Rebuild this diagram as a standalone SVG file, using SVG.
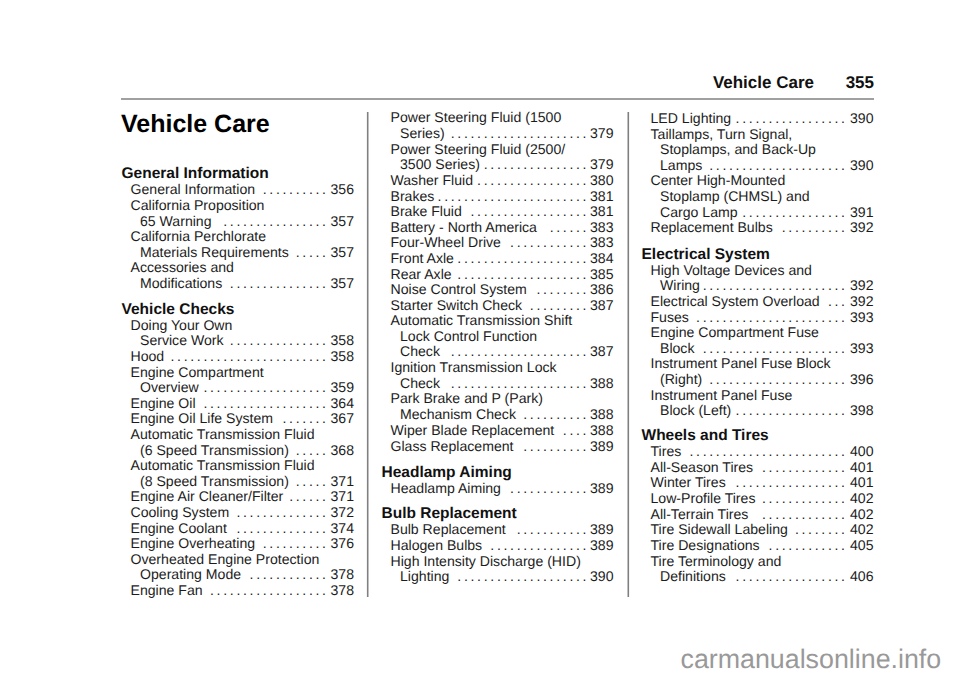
<svg xmlns="http://www.w3.org/2000/svg" width="960" height="678" viewBox="0 0 960 678">
<style>
text{font-family:"Liberation Sans",Arial,sans-serif;fill:#1c1c1c;text-rendering:geometricPrecision}
.i{font-size:14.1px}
.d{font-size:14.1px;word-spacing:-1.24px}
.h{font-size:15.5px;font-weight:bold;fill:#111}
.t{font-size:25px;font-weight:bold;fill:#000}
.p{font-size:17px;font-weight:bold;fill:#111}
.r{stroke:#808080;stroke-width:1.6;fill:none}
.w{font-size:26.8px;fill:#999}
</style>
<rect width="960" height="678" fill="#fff"/>
<g id="header">
<text class="p" x="814" y="87.6" text-anchor="end">Vehicle Care</text>
<text class="p" x="874" y="87.6" text-anchor="end">355</text>
<path class="r" d="M121 99H874"/>
<path class="r" d="M367.7 112V597M628.3 112V597"/>
<text class="t" x="121" y="131.5">Vehicle Care</text>
</g>
<g id="column1">
<text class="h" x="121.5" y="178.3">General Information</text>
<text class="i" x="130.5" y="194.3">General Information<tspan class="d" x="326" text-anchor="end">. . . . . . . . . .</tspan><tspan x="354" text-anchor="end">356</tspan></text>
<text class="i" x="130.5" y="210">California Proposition</text>
<text class="i" x="140" y="225.6">65 Warning<tspan class="d" x="326" text-anchor="end">. . . . . . . . . . . . . . . .</tspan><tspan x="354" text-anchor="end">357</tspan></text>
<text class="i" x="130.5" y="241.2">California Perchlorate</text>
<text class="i" x="140" y="256.8">Materials Requirements<tspan class="d" x="326" text-anchor="end">. . . . .</tspan><tspan x="354" text-anchor="end">357</tspan></text>
<text class="i" x="130.5" y="272.4">Accessories and</text>
<text class="i" x="140" y="288">Modifications<tspan class="d" x="326" text-anchor="end">. . . . . . . . . . . . . . .</tspan><tspan x="354" text-anchor="end">357</tspan></text>
<text class="h" x="121.5" y="314">Vehicle Checks</text>
<text class="i" x="130.5" y="330">Doing Your Own</text>
<text class="i" x="140" y="345.4">Service Work<tspan class="d" x="326" text-anchor="end">. . . . . . . . . . . . . . .</tspan><tspan x="354" text-anchor="end">358</tspan></text>
<text class="i" x="130.5" y="361">Hood<tspan class="d" x="326" text-anchor="end">. . . . . . . . . . . . . . . . . . . . . . . .</tspan><tspan x="354" text-anchor="end">358</tspan></text>
<text class="i" x="130.5" y="376.7">Engine Compartment</text>
<text class="i" x="140" y="392.2">Overview<tspan class="d" x="326" text-anchor="end">. . . . . . . . . . . . . . . . . . .</tspan><tspan x="354" text-anchor="end">359</tspan></text>
<text class="i" x="130.5" y="407.8">Engine Oil<tspan class="d" x="326" text-anchor="end">. . . . . . . . . . . . . . . . . . .</tspan><tspan x="354" text-anchor="end">364</tspan></text>
<text class="i" x="130.5" y="423.4">Engine Oil Life System<tspan class="d" x="326" text-anchor="end">. . . . . . .</tspan><tspan x="354" text-anchor="end">367</tspan></text>
<text class="i" x="130.5" y="439">Automatic Transmission Fluid</text>
<text class="i" x="140" y="454.6">(6 Speed Transmission)<tspan class="d" x="326" text-anchor="end">. . . . .</tspan><tspan x="354" text-anchor="end">368</tspan></text>
<text class="i" x="130.5" y="470.2">Automatic Transmission Fluid</text>
<text class="i" x="140" y="485.8">(8 Speed Transmission)<tspan class="d" x="326" text-anchor="end">. . . . .</tspan><tspan x="354" text-anchor="end">371</tspan></text>
<text class="i" x="130.5" y="501.4">Engine Air Cleaner/Filter<tspan class="d" x="326" text-anchor="end">. . . . . .</tspan><tspan x="354" text-anchor="end">371</tspan></text>
<text class="i" x="130.5" y="517">Cooling System<tspan class="d" x="326" text-anchor="end">. . . . . . . . . . . . . .</tspan><tspan x="354" text-anchor="end">372</tspan></text>
<text class="i" x="130.5" y="532.6">Engine Coolant<tspan class="d" x="326" text-anchor="end">. . . . . . . . . . . . . .</tspan><tspan x="354" text-anchor="end">374</tspan></text>
<text class="i" x="130.5" y="548.2">Engine Overheating<tspan class="d" x="326" text-anchor="end">. . . . . . . . . .</tspan><tspan x="354" text-anchor="end">376</tspan></text>
<text class="i" x="130.5" y="563.6">Overheated Engine Protection</text>
<text class="i" x="140" y="579.2">Operating Mode<tspan class="d" x="326" text-anchor="end">. . . . . . . . . . . .</tspan><tspan x="354" text-anchor="end">378</tspan></text>
<text class="i" x="130.5" y="594.6">Engine Fan<tspan class="d" x="326" text-anchor="end">. . . . . . . . . . . . . . . . . .</tspan><tspan x="354" text-anchor="end">378</tspan></text>
</g>
<g id="column2">
<text class="i" x="390.5" y="122.4">Power Steering Fluid (1500</text>
<text class="i" x="400" y="138">Series)<tspan class="d" x="586.5" text-anchor="end">. . . . . . . . . . . . . . . . . . . . .</tspan><tspan x="613.5" text-anchor="end">379</tspan></text>
<text class="i" x="390.5" y="153.7">Power Steering Fluid (2500/</text>
<text class="i" x="400" y="169.3">3500 Series)<tspan class="d" x="586.5" text-anchor="end">. . . . . . . . . . . . . . . .</tspan><tspan x="613.5" text-anchor="end">379</tspan></text>
<text class="i" x="390.5" y="185">Washer Fluid<tspan class="d" x="586.5" text-anchor="end">. . . . . . . . . . . . . . . . .</tspan><tspan x="613.5" text-anchor="end">380</tspan></text>
<text class="i" x="390.5" y="200.6">Brakes<tspan class="d" x="586.5" text-anchor="end">. . . . . . . . . . . . . . . . . . . . . . .</tspan><tspan x="613.5" text-anchor="end">381</tspan></text>
<text class="i" x="390.5" y="216.2">Brake Fluid<tspan class="d" x="586.5" text-anchor="end">. . . . . . . . . . . . . . . . . .</tspan><tspan x="613.5" text-anchor="end">381</tspan></text>
<text class="i" x="390.5" y="231.8">Battery - North America<tspan class="d" x="586.5" text-anchor="end">. . . . . .</tspan><tspan x="613.5" text-anchor="end">383</tspan></text>
<text class="i" x="390.5" y="247.4">Four-Wheel Drive<tspan class="d" x="586.5" text-anchor="end">. . . . . . . . . . . .</tspan><tspan x="613.5" text-anchor="end">383</tspan></text>
<text class="i" x="390.5" y="263">Front Axle<tspan class="d" x="586.5" text-anchor="end">. . . . . . . . . . . . . . . . . . . .</tspan><tspan x="613.5" text-anchor="end">384</tspan></text>
<text class="i" x="390.5" y="278.6">Rear Axle<tspan class="d" x="586.5" text-anchor="end">. . . . . . . . . . . . . . . . . . . .</tspan><tspan x="613.5" text-anchor="end">385</tspan></text>
<text class="i" x="390.5" y="294.2">Noise Control System<tspan class="d" x="586.5" text-anchor="end">. . . . . . . .</tspan><tspan x="613.5" text-anchor="end">386</tspan></text>
<text class="i" x="390.5" y="309.6">Starter Switch Check<tspan class="d" x="586.5" text-anchor="end">. . . . . . . . .</tspan><tspan x="613.5" text-anchor="end">387</tspan></text>
<text class="i" x="390.5" y="325.2">Automatic Transmission Shift</text>
<text class="i" x="400" y="340.8">Lock Control Function</text>
<text class="i" x="400" y="356.4">Check<tspan class="d" x="586.5" text-anchor="end">. . . . . . . . . . . . . . . . . . . . .</tspan><tspan x="613.5" text-anchor="end">387</tspan></text>
<text class="i" x="390.5" y="372">Ignition Transmission Lock</text>
<text class="i" x="400" y="387.7">Check<tspan class="d" x="586.5" text-anchor="end">. . . . . . . . . . . . . . . . . . . . .</tspan><tspan x="613.5" text-anchor="end">388</tspan></text>
<text class="i" x="390.5" y="403.3">Park Brake and P (Park)</text>
<text class="i" x="400" y="419">Mechanism Check<tspan class="d" x="586.5" text-anchor="end">. . . . . . . . . .</tspan><tspan x="613.5" text-anchor="end">388</tspan></text>
<text class="i" x="390.5" y="435">Wiper Blade Replacement<tspan class="d" x="586.5" text-anchor="end">. . . .</tspan><tspan x="613.5" text-anchor="end">388</tspan></text>
<text class="i" x="390.5" y="450.9">Glass Replacement<tspan class="d" x="586.5" text-anchor="end">. . . . . . . . . .</tspan><tspan x="613.5" text-anchor="end">389</tspan></text>
<text class="h" x="381.5" y="476.7">Headlamp Aiming</text>
<text class="i" x="390.5" y="492.7">Headlamp Aiming<tspan class="d" x="586.5" text-anchor="end">. . . . . . . . . . . .</tspan><tspan x="613.5" text-anchor="end">389</tspan></text>
<text class="h" x="381.5" y="518.3">Bulb Replacement</text>
<text class="i" x="390.5" y="534.3">Bulb Replacement<tspan class="d" x="586.5" text-anchor="end">. . . . . . . . . . .</tspan><tspan x="613.5" text-anchor="end">389</tspan></text>
<text class="i" x="390.5" y="549.9">Halogen Bulbs<tspan class="d" x="586.5" text-anchor="end">. . . . . . . . . . . . . . .</tspan><tspan x="613.5" text-anchor="end">389</tspan></text>
<text class="i" x="390.5" y="565.5">High Intensity Discharge (HID)</text>
<text class="i" x="400" y="581.1">Lighting<tspan class="d" x="586.5" text-anchor="end">. . . . . . . . . . . . . . . . . . . .</tspan><tspan x="613.5" text-anchor="end">390</tspan></text>
</g>
<g id="column3">
<text class="i" x="650.5" y="122.9">LED Lighting<tspan class="d" x="845" text-anchor="end">. . . . . . . . . . . . . . . . .</tspan><tspan x="873.5" text-anchor="end">390</tspan></text>
<text class="i" x="650.5" y="138.5">Taillamps, Turn Signal,</text>
<text class="i" x="660" y="154.1">Stoplamps, and Back-Up</text>
<text class="i" x="660" y="169.7">Lamps<tspan class="d" x="845" text-anchor="end">. . . . . . . . . . . . . . . . . . . . .</tspan><tspan x="873.5" text-anchor="end">390</tspan></text>
<text class="i" x="650.5" y="185.3">Center High-Mounted</text>
<text class="i" x="660" y="200.9">Stoplamp (CHMSL) and</text>
<text class="i" x="660" y="216.5">Cargo Lamp<tspan class="d" x="845" text-anchor="end">. . . . . . . . . . . . . . . .</tspan><tspan x="873.5" text-anchor="end">391</tspan></text>
<text class="i" x="650.5" y="232">Replacement Bulbs<tspan class="d" x="845" text-anchor="end">. . . . . . . . . .</tspan><tspan x="873.5" text-anchor="end">392</tspan></text>
<text class="h" x="641.5" y="258.8">Electrical System</text>
<text class="i" x="650.5" y="274.8">High Voltage Devices and</text>
<text class="i" x="660" y="290.4">Wiring<tspan class="d" x="845" text-anchor="end">. . . . . . . . . . . . . . . . . . . . . .</tspan><tspan x="873.5" text-anchor="end">392</tspan></text>
<text class="i" x="650.5" y="306">Electrical System Overload<tspan class="d" x="845" text-anchor="end">. . .</tspan><tspan x="873.5" text-anchor="end">392</tspan></text>
<text class="i" x="650.5" y="321.6">Fuses<tspan class="d" x="845" text-anchor="end">. . . . . . . . . . . . . . . . . . . . . . .</tspan><tspan x="873.5" text-anchor="end">393</tspan></text>
<text class="i" x="650.5" y="337.2">Engine Compartment Fuse</text>
<text class="i" x="660" y="352.8">Block<tspan class="d" x="845" text-anchor="end">. . . . . . . . . . . . . . . . . . . . . .</tspan><tspan x="873.5" text-anchor="end">393</tspan></text>
<text class="i" x="650.5" y="368.4">Instrument Panel Fuse Block</text>
<text class="i" x="660" y="384">(Right)<tspan class="d" x="845" text-anchor="end">. . . . . . . . . . . . . . . . . . . . .</tspan><tspan x="873.5" text-anchor="end">396</tspan></text>
<text class="i" x="650.5" y="399.6">Instrument Panel Fuse</text>
<text class="i" x="660" y="415.2">Block (Left)<tspan class="d" x="845" text-anchor="end">. . . . . . . . . . . . . . . . .</tspan><tspan x="873.5" text-anchor="end">398</tspan></text>
<text class="h" x="641.5" y="440.3">Wheels and Tires</text>
<text class="i" x="650.5" y="456.2">Tires<tspan class="d" x="845" text-anchor="end">. . . . . . . . . . . . . . . . . . . . . . . .</tspan><tspan x="873.5" text-anchor="end">400</tspan></text>
<text class="i" x="650.5" y="471.8">All-Season Tires<tspan class="d" x="845" text-anchor="end">. . . . . . . . . . . . .</tspan><tspan x="873.5" text-anchor="end">401</tspan></text>
<text class="i" x="650.5" y="487.4">Winter Tires<tspan class="d" x="845" text-anchor="end">. . . . . . . . . . . . . . . . .</tspan><tspan x="873.5" text-anchor="end">401</tspan></text>
<text class="i" x="650.5" y="503">Low-Profile Tires<tspan class="d" x="845" text-anchor="end">. . . . . . . . . . . . .</tspan><tspan x="873.5" text-anchor="end">402</tspan></text>
<text class="i" x="650.5" y="518.7">All-Terrain Tires<tspan class="d" x="845" text-anchor="end">. . . . . . . . . . . . .</tspan><tspan x="873.5" text-anchor="end">402</tspan></text>
<text class="i" x="650.5" y="534.3">Tire Sidewall Labeling<tspan class="d" x="845" text-anchor="end">. . . . . . . .</tspan><tspan x="873.5" text-anchor="end">402</tspan></text>
<text class="i" x="650.5" y="549.9">Tire Designations<tspan class="d" x="845" text-anchor="end">. . . . . . . . . . . .</tspan><tspan x="873.5" text-anchor="end">405</tspan></text>
<text class="i" x="650.5" y="565.5">Tire Terminology and</text>
<text class="i" x="660" y="581.1">Definitions<tspan class="d" x="845" text-anchor="end">. . . . . . . . . . . . . . . . .</tspan><tspan x="873.5" text-anchor="end">406</tspan></text>
</g>
<text class="w" x="680.5" y="668">carmanualsonline.info</text>
</svg>
